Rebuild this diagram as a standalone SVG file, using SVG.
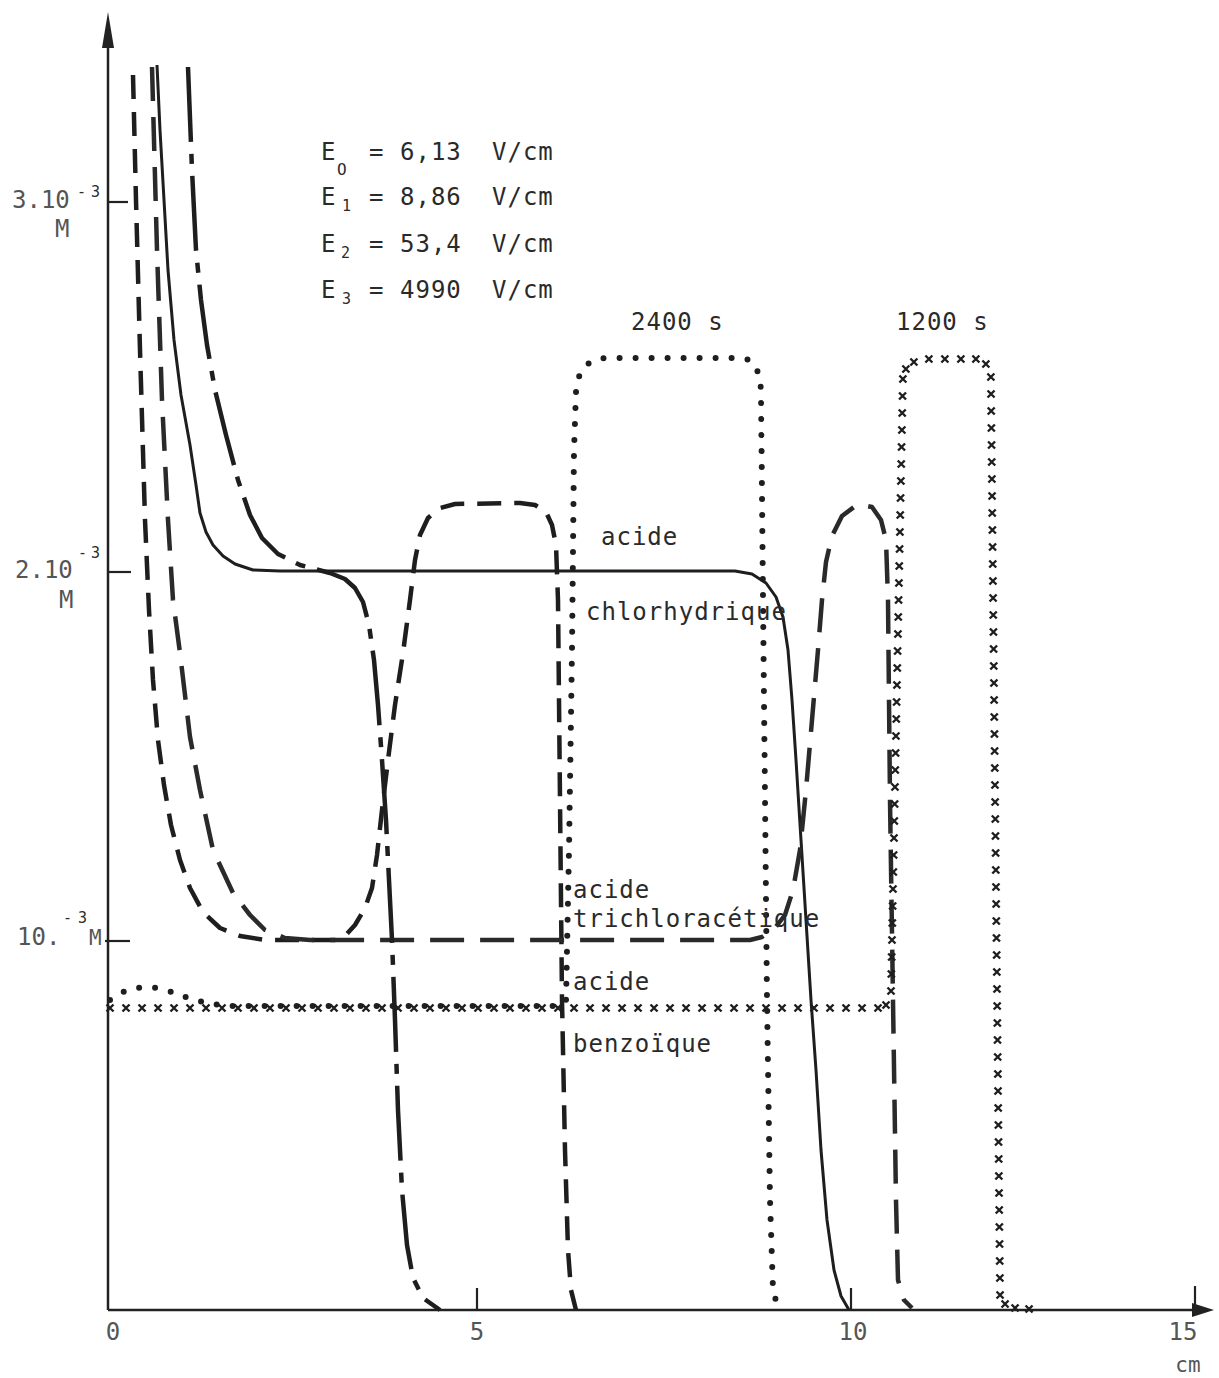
<svg xmlns="http://www.w3.org/2000/svg" width="1219" height="1378" viewBox="0 0 1219 1378">
<defs>
<style>
.ax{stroke:#222;stroke-width:2.5;fill:none}
.tk{stroke:#222;stroke-width:2.2;fill:none}
.crv{fill:none;stroke:#1e1e1e;stroke-linejoin:round}
.sol{stroke-width:3}
.sd{stroke-width:4.5;stroke-dasharray:24 13}
.ld{stroke-width:4.5;stroke-dasharray:34 16;stroke:#2a2a2a}
.dd{stroke-width:4.5;stroke-dasharray:75 12 10 12}
.dot{stroke-width:6;stroke-dasharray:0 16;stroke-linecap:round}
.t{font-family:"DejaVu Sans Mono","Liberation Mono",monospace;font-size:24px;fill:#2a2a2a;letter-spacing:1px}
.n{font-family:"DejaVu Sans Mono","Liberation Mono",monospace;font-size:24px;fill:#555}
.sub{font-family:"DejaVu Sans Mono","Liberation Mono",monospace;font-size:15px;fill:#2a2a2a}
</style>
<marker id="x" markerUnits="userSpaceOnUse" markerWidth="10" markerHeight="10" refX="5" refY="5" viewBox="0 0 10 10" orient="0">
<path d="M1.5,1.5 L8.5,8.5 M8.5,1.5 L1.5,8.5" stroke="#1e1e1e" stroke-width="2.4" fill="none"/>
</marker>
</defs>
<rect width="1219" height="1378" fill="#fff"/>

<g id="axes">
<line class="ax" x1="108" y1="1310" x2="108" y2="40"/>
<polygon points="108,12 102,48 114,48" fill="#222"/>
<line class="ax" x1="108" y1="1310" x2="1195" y2="1310"/>
<polygon points="1214,1310 1192,1303 1192,1317" fill="#222"/>
<line class="tk" x1="108" y1="202" x2="128" y2="202"/>
<line class="tk" x1="108" y1="572" x2="131" y2="572"/>
<line class="tk" x1="105" y1="941" x2="130" y2="941"/>
<line class="tk" x1="477" y1="1288" x2="477" y2="1310"/>
<line class="tk" x1="851" y1="1288" x2="851" y2="1310"/>
<line class="tk" x1="1195" y1="1286" x2="1195" y2="1310"/>
</g>

<g id="axis-labels">
<text class="n" x="12" y="208">3.10</text>
<text class="sub" x="77" y="197">-<tspan x="91">3</tspan></text>
<text class="n" x="55" y="237">M</text>
<text class="n" x="15" y="578">2.10</text>
<text class="sub" x="78" y="558">-<tspan x="91">3</tspan></text>
<text class="n" x="59" y="608">M</text>
<text class="n" x="17" y="945">10.</text>
<text class="sub" x="63" y="923">-<tspan x="78">3</tspan></text>
<text class="n" x="89" y="945" style="font-size:21px">M</text>
<text class="n" x="113" y="1340" text-anchor="middle">0</text>
<text class="n" x="477" y="1340" text-anchor="middle">5</text>
<text class="n" x="853" y="1340" text-anchor="middle">10</text>
<text class="n" x="1183" y="1340" text-anchor="middle">15</text>
<text class="n" x="1188" y="1372" text-anchor="middle" style="font-size:21px">cm</text>
</g>

<g id="legend">
<text class="t" x="321" y="160">E</text><text class="sub" x="337" y="175" style="font-size:16px">O</text>
<text class="t" x="369" y="160">=</text><text class="t" x="400" y="160">6,13</text><text class="t" x="492" y="160">V/cm</text>
<text class="t" x="321" y="205">E</text><text class="sub" x="342" y="211">1</text>
<text class="t" x="369" y="205">=</text><text class="t" x="400" y="205">8,86</text><text class="t" x="492" y="205">V/cm</text>
<text class="t" x="321" y="252">E</text><text class="sub" x="341" y="258">2</text>
<text class="t" x="369" y="252">=</text><text class="t" x="400" y="252">53,4</text><text class="t" x="492" y="252">V/cm</text>
<text class="t" x="321" y="298">E</text><text class="sub" x="342" y="304">3</text>
<text class="t" x="369" y="298">=</text><text class="t" x="400" y="298">4990</text><text class="t" x="492" y="298">V/cm</text>
</g>

<g id="curves">
<path id="hcl" class="crv sol" d="M157,65 L160,130 L164,200 L168,270 L174,340 L181,395 L190,445 L196,485 L200,513 L206,532 L213,545 L223,556 L235,564 L253,570 L280,571 L735,571 L752,574 L766,583 L776,597 L783,617 L788,650 L792,700 L796,760 L801,840 L806,920 L811,1000 L816,1070 L821,1150 L827,1220 L834,1270 L841,1296 L849,1310"/>
<path id="short-dash" class="crv sd" d="M133,75 L136,200 L140,350 L145,520 L149,610 L153,680 L158,740 L164,785 L171,825 L180,860 L190,888 L203,912 L220,928 L240,936 L265,940 L335,940 L345,936 L355,925 L365,908 L372,888 L377,855 L382,810 L388,760 L395,705 L403,653 L410,600 L415,560 L420,535 L428,518 L440,508 L455,504 L520,503 L535,505 L546,512 L552,525 L556,545 L558,600 L560,800 L562,1000 L565,1150 L568,1250 L571,1290 L576,1310"/>
<path id="long-dash" class="crv ld" d="M152,67 L157,250 L162,400 L168,520 L173,600 L180,653 L190,737 L200,790 L213,850 L233,893 L250,915 L265,930 L285,938 L310,940 L750,940 L762,937 L775,928 L785,915 L793,890 L800,850 L806,790 L812,720 L818,650 L822,600 L826,562 L832,536 L842,516 L858,504 L872,507 L881,520 L886,540 L888,600 L890,800 L893,1000 L896,1200 L898,1280 L904,1300 L912,1308"/>
<path id="dash-dot" class="crv dd" d="M188,67 L192,170 L196,250 L201,300 L207,345 L215,390 L226,435 L238,480 L250,515 L262,538 L278,554 L300,565 L330,573 L345,579 L355,588 L363,602 L369,625 L374,660 L378,705 L382,760 L386,820 L389,880 L392,940 L395,1020 L398,1110 L402,1190 L407,1245 L413,1278 L423,1298 L440,1310"/>
<path id="dotted-2400s" class="crv dot" d="M110,1000 C125,988 145,984 165,990 C185,996 200,1004 230,1006 L560,1006 L566,1000 L569,850 L572,650 L574,450 L576,392 Q578,360 605,358 L742,358 Q760,360 761,392 L764,700 L767,1000 L770,1200 L773,1290 L778,1308"/>
<path id="crosses-1200s" fill="none" stroke="none" marker-start="url(#x)" marker-mid="url(#x)" marker-end="url(#x)" d="M110,1008 h16 h16 h16 h16 h16 h16 h16 h16 h16 h16 h16 h16 h16 h16 h16 h16 h16 h16 h16 h16 h16 h16 h16 h16 h16 h16 h16 h16 h16 h16 h16 h16 h16 h16 h16 h16 h16 h16 h16 h16 h16 h16 h16 h16 h16 h16 h16 h16 l8,-3 l5,-14 l0.33,-17 l0.33,-17 l0.33,-17 l0.33,-17 l0.33,-17 l0.33,-17 l0.33,-17 l0.33,-17 l0.33,-17 l0.33,-17 l0.33,-17 l0.33,-17 l0.33,-17 l0.33,-17 l0.33,-17 l0.33,-17 l0.33,-17 l0.33,-17 l0.33,-17 l0.33,-17 l0.33,-17 l0.33,-17 l0.33,-17 l0.33,-17 l0.33,-17 l0.33,-17 l0.33,-17 l0.33,-17 l0.33,-17 l0.33,-17 l0.33,-17 l0.33,-17 l0.33,-17 l0.33,-17 l0.33,-17 l0.33,-17 l3,-10 l8,-7 l15,-3 h16 h16 h15 l10,5 l5,13 l0.17,17 l0.17,17 l0.17,17 l0.17,17 l0.17,17 l0.17,17 l0.17,17 l0.17,17 l0.17,17 l0.17,17 l0.17,17 l0.17,17 l0.17,17 l0.17,17 l0.17,17 l0.17,17 l0.17,17 l0.17,17 l0.17,17 l0.17,17 l0.17,17 l0.17,17 l0.17,17 l0.17,17 l0.17,17 l0.17,17 l0.17,17 l0.17,17 l0.17,17 l0.17,17 l0.17,17 l0.17,17 l0.17,17 l0.17,17 l0.17,17 l0.17,17 l0.17,17 l0.17,17 l0.17,17 l0.17,17 l0.17,17 l0.17,17 l0.17,17 l0.17,17 l0.17,17 l0.17,17 l0.17,17 l0.17,17 l0.17,17 l0.17,17 l0.17,17 l0.17,17 l0.17,17 l0.17,17 l5,9 l10,4 l14,1"/>
</g>

<g id="curve-labels">
<text class="t" x="631" y="330">2400 s</text>
<text class="t" x="896" y="330">1200 s</text>
<text class="t" x="601" y="545">acide</text>
<text class="t" x="586" y="620">chlorhydrique</text>
<text class="t" x="573" y="898">acide</text>
<text class="t" x="573" y="927">trichloracétique</text>
<text class="t" x="573" y="990">acide</text>
<text class="t" x="573" y="1052">benzoïque</text>
</g>
</svg>
